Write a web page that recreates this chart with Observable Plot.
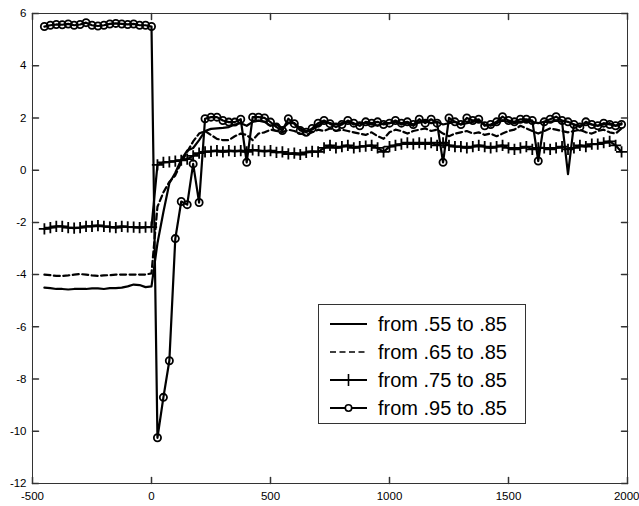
<!DOCTYPE html>
<html><head><meta charset="utf-8">
<script src="https://cdn.jsdelivr.net/npm/d3@7"></script>
<script src="https://cdn.jsdelivr.net/npm/@observablehq/plot@0.6"></script>
<style>html,body{margin:0;padding:0;background:#fff}svg{display:block}</style>
</head><body><div id="chart"></div>
<script>
const xs = [-450,-425,-400,-375,-350,-325,-300,-275,-250,-225,-200,-175,-150,-125,-100,-75,-50,-25,0,
 25,50,75,100,125,150,175,200,225,
 250,275,300,325,350,375,400,425,450,475,
 500,525,550,575,600,625,650,675,700,725,
 750,775,800,825,850,875,900,925,950,975,
 1000,1025,1050,1075,1100,1125,1150,1175,1200,1225,
 1250,1275,1300,1325,1350,1375,1400,1425,1450,1475,
 1500,1525,1550,1575,1600,1625,1650,1675,1700,1725,
 1750,1775,1800,1825,1850,1875,1900,1925,1950,1975];

const s55 = [-4.5,-4.52,-4.55,-4.55,-4.57,-4.55,-4.55,-4.55,-4.53,-4.53,-4.55,-4.52,-4.52,-4.5,-4.45,-4.38,-4.4,-4.48,-4.45,
 -2.8,-1.6,-0.5,-0.1,0.4,0.75,0.85,1.15,1.5,
 1.58,1.6,1.62,1.65,1.75,1.8,1.7,1.85,1.9,1.85,
 1.7,1.75,1.6,1.8,1.8,1.6,1.5,1.55,1.7,1.85,
 1.8,1.75,1.8,1.85,1.75,1.8,1.8,1.75,1.7,1.8,
 1.8,1.85,1.75,1.8,1.7,1.85,1.9,1.8,1.85,1.75,
 1.8,1.85,1.75,1.8,1.85,1.9,1.75,1.7,1.8,1.9,
 1.85,1.8,1.85,1.9,1.85,1.8,1.85,1.85,1.9,1.85,
 -0.15,1.75,1.7,1.8,1.75,1.7,1.75,1.8,1.7,1.8];

const s65 = [-4.0,-4.02,-4.05,-4.05,-4.03,-4.0,-3.98,-4.0,-4.03,-4.05,-4.03,-4.02,-4.0,-4.0,-4.0,-4.0,-4.0,-4.0,-3.95,
 -1.4,-0.85,-0.45,-0.2,0.3,0.7,1.1,1.4,1.5,
 1.35,1.2,1.15,1.15,1.3,1.4,1.35,1.15,1.4,1.45,
 1.55,1.5,1.45,1.55,1.5,1.4,1.35,1.45,1.55,1.5,
 1.6,1.5,1.55,1.5,1.45,1.4,1.35,1.45,1.3,1.2,
 1.45,1.55,1.5,1.4,1.5,1.55,1.6,1.5,1.55,1.4,
 1.3,1.4,1.45,1.5,1.4,1.45,1.35,1.4,1.3,1.4,
 1.5,1.55,1.7,1.6,1.5,1.4,1.5,1.6,1.55,1.5,
 1.45,1.5,1.55,1.45,1.4,1.5,1.55,1.45,1.4,1.6];

const s75 = [-2.25,-2.2,-2.15,-2.15,-2.2,-2.22,-2.2,-2.15,-2.15,-2.12,-2.15,-2.17,-2.2,-2.15,-2.17,-2.18,-2.2,-2.18,-2.18,
 0.2,0.3,0.32,0.35,0.38,0.42,0.55,0.65,0.7,
 0.72,0.75,0.7,0.75,0.72,0.75,0.7,0.78,0.75,0.72,
 0.75,0.68,0.7,0.62,0.65,0.6,0.68,0.72,0.7,0.85,
 0.95,0.85,0.9,0.95,0.85,0.9,0.92,0.95,0.85,0.7,
 0.9,0.95,1.0,1.05,1.0,1.05,1.0,1.05,0.95,1.05,
 0.95,0.9,0.9,0.85,0.9,0.95,0.9,0.85,0.9,0.95,
 0.85,0.8,0.85,0.9,0.8,0.85,0.85,0.8,0.85,0.9,
 0.8,0.85,0.95,0.9,1.0,1.0,1.05,1.1,0.95,0.7];

const s95 = [5.5,5.55,5.58,5.57,5.6,5.55,5.58,5.65,5.55,5.52,5.55,5.6,5.62,5.6,5.58,5.6,5.55,5.55,5.5,
 -10.25,-8.7,-7.3,-2.62,-1.2,-1.32,0.24,-1.24,1.97,
 2.03,2.03,1.9,1.84,1.84,1.95,0.3,2.03,2.03,2.0,
 1.84,1.65,1.52,1.97,1.78,1.52,1.45,1.6,1.8,1.9,
 1.78,1.65,1.75,1.9,1.8,1.7,1.85,1.8,1.85,1.75,
 1.8,1.9,1.8,1.85,1.75,1.95,1.8,1.95,1.8,0.3,
 2.0,1.85,1.75,2.0,1.9,1.95,1.7,1.75,1.85,2.05,
 1.9,1.85,1.95,1.95,1.9,0.35,1.85,1.95,2.05,1.9,
 1.85,1.75,1.65,1.85,1.75,1.7,1.8,1.75,1.7,1.75];

const seriesNames = ["from .55 to .85", "from .65 to .85", "from .75 to .85", "from .95 to .85"];
const xTicks = [-500, 0, 500, 1000, 1500, 2000];
const yTicks = [-12, -10, -8, -6, -4, -2, 0, 2, 4, 6];

const rows = ys => xs.map((x, i) => ({x, y: ys[i]}));
const d55 = rows(s55), d65 = rows(s65), d75 = rows(s75), d95 = rows(s95);

const ink = "#000";
const axisInk = "#333";
const tick = 6;
const lw = 2.2;
const tickShape = {draw(context, l) { context.moveTo(0, 0); context.lineTo(0, -l); }};

const plot = Plot.plot({
  width: 639, height: 506,
  marginLeft: 32, marginRight: 12, marginTop: 13, marginBottom: 23,
  x: {domain: [-500, 2000]},
  y: {domain: [-12, 6]},
  style: {fontFamily: "'Liberation Sans', Arial, sans-serif", fontSize: "11.5px", background: "white", color: "black"},
  marks: [
    Plot.line(d55, {x: "x", y: "y", stroke: ink, strokeWidth: lw}),
    Plot.line(d65, {x: "x", y: "y", stroke: ink, strokeWidth: lw, strokeDasharray: "6,3.5"}),
    Plot.line(d75, {x: "x", y: "y", stroke: ink, strokeWidth: lw}),
    Plot.dot(d75, {x: "x", y: "y", symbol: "plus", r: 3.7, stroke: ink, strokeWidth: 1.8}),
    Plot.line(d95, {x: "x", y: "y", stroke: ink, strokeWidth: lw}),
    Plot.dot(d95, {x: "x", y: "y", symbol: "circle", r: 3.6, stroke: ink, strokeWidth: 1.8, fill: "none"}),
    Plot.frame({stroke: axisInk, strokeWidth: 1}),
    Plot.vectorX(xTicks, {x: d => d, frameAnchor: "bottom", length: tick, rotate: 0, anchor: "start", shape: tickShape, stroke: axisInk}),
    Plot.vectorX(xTicks, {x: d => d, frameAnchor: "top", length: tick, rotate: 180, anchor: "start", shape: tickShape, stroke: axisInk}),
    Plot.vectorY(yTicks, {y: d => d, frameAnchor: "left", length: tick, rotate: 90, anchor: "start", shape: tickShape, stroke: axisInk}),
    Plot.vectorY(yTicks, {y: d => d, frameAnchor: "right", length: tick, rotate: -90, anchor: "start", shape: tickShape, stroke: axisInk}),
    Plot.axisX(xTicks.slice(0, -1), {tickSize: 0, tickPadding: 8, label: null, tickFormat: d => String(d)}),
    Plot.axisX(xTicks.slice(-1), {tickSize: 0, tickPadding: 8, label: null, tickFormat: d => String(d), textAnchor: "end", dx: 12}),
    Plot.axisY(yTicks, {tickSize: 0, tickPadding: 6, label: null, tickFormat: d => String(d)})
  ]
});
document.getElementById("chart").appendChild(plot);

// legend box inside plot area (MATLAB-style)
const svg = d3.select(plot);
const lg = svg.append("g").attr("font-family", "'Liberation Sans', Arial, sans-serif").attr("text-anchor", "start");
lg.append("rect").attr("x", 318.5).attr("y", 304.5).attr("width", 207).attr("height", 119)
  .attr("fill", "white").attr("stroke", axisInk);
const styles = [
  {dash: null, marker: null},
  {dash: "6,3.5", marker: null},
  {dash: null, marker: "plus"},
  {dash: null, marker: "circle"}
];
seriesNames.forEach((name, i) => {
  const yy = 324 + i * 28;
  const st = styles[i];
  const ln = lg.append("line").attr("x1", 330).attr("x2", 367).attr("y1", yy).attr("y2", yy)
    .attr("stroke", ink).attr("stroke-width", lw);
  if (st.dash) ln.attr("stroke-dasharray", st.dash).attr("stroke-width", 1.6);
  if (st.marker === "plus") {
    lg.append("path").attr("d", d3.symbol(d3.symbolPlus, 50)()).attr("transform", `translate(348.5,${yy})`)
      .attr("fill", "none").attr("stroke", ink).attr("stroke-width", 1.6);
  } else if (st.marker === "circle") {
    lg.append("circle").attr("cx", 348.5).attr("cy", yy).attr("r", 3.2)
      .attr("fill", "white").attr("stroke", ink).attr("stroke-width", 1.6);
  }
  lg.append("text").attr("x", 378).attr("y", yy).attr("dy", "0.35em")
    .attr("font-size", 20).attr("fill", ink).attr("text-anchor", "start").text(name);
});
</script>
</body></html>
